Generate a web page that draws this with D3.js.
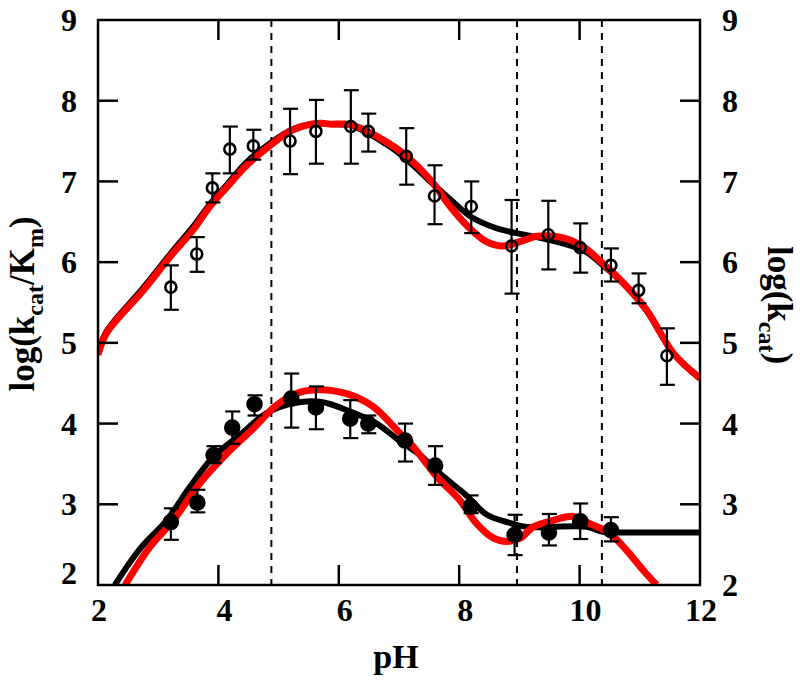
<!DOCTYPE html>
<html>
<head>
<meta charset="utf-8">
<script src="https://cdn.jsdelivr.net/npm/d3@7"></script>
<style>
  body { margin: 0; background: #fff; }
</style>
</head>
<body>
<div id="chart"></div>
<script>
// open circles (upper series)
var kmPH  = [3.21, 3.64, 3.90, 4.19, 4.58, 5.19, 5.62, 6.20, 6.49, 7.12, 7.59, 8.20, 8.87, 9.48, 10.01, 10.52, 10.98, 11.45];
var kmVal = [5.69, 6.10, 6.92, 7.40, 7.44, 7.50, 7.62, 7.68, 7.62, 7.31, 6.82, 6.69, 6.20, 6.34, 6.18, 5.96, 5.65, 4.84];
var kmHi  = [5.96, 6.31, 7.10, 7.68, 7.64, 7.90, 8.01, 8.13, 7.84, 7.66, 7.20, 7.00, 6.77, 6.76, 6.48, 6.17, 5.86, 5.18];
var kmLo  = [5.41, 5.88, 6.74, 7.10, 7.27, 7.09, 7.22, 7.22, 7.37, 6.96, 6.47, 6.36, 5.61, 5.91, 5.87, 5.76, 5.49, 4.48];

// filled circles (lower series)
var kcPH  = [3.21, 3.65, 3.92, 4.23, 4.60, 5.21, 5.62, 6.19, 6.49, 7.10, 7.60, 8.19, 8.92, 9.49, 10.01, 10.52];
var kcVal = [2.78, 3.02, 3.61, 3.95, 4.24, 4.31, 4.20, 4.06, 4.00, 3.79, 3.48, 2.97, 2.62, 2.65, 2.79, 2.68];
var kcHi  = [2.95, 3.18, 3.72, 4.15, 4.35, 4.62, 4.46, 4.29, 4.10, 4.00, 3.72, 3.11, 2.87, 2.88, 3.01, 2.84];
var kcLo  = [2.56, 2.90, 3.51, 3.75, 4.10, 3.95, 3.93, 3.82, 3.88, 3.53, 3.24, 2.89, 2.37, 2.49, 2.57, 2.54];

// fitted curves
var upRedPH  = [2.0, 2.14, 2.75, 3.20, 3.58, 3.86, 4.14, 4.47, 4.80, 5.24, 5.69, 5.85, 6.21, 6.79, 7.13, 7.52, 7.85, 8.12, 8.46, 8.73, 9.07, 9.29, 9.73, 10.06, 10.39, 10.73, 11.11, 11.56, 12.0];
var upRedVal = [4.85, 5.12, 5.65, 6.07, 6.40, 6.69, 6.93, 7.20, 7.41, 7.64, 7.72, 7.71, 7.70, 7.49, 7.31, 7.02, 6.69, 6.46, 6.25, 6.20, 6.27, 6.32, 6.30, 6.19, 5.98, 5.74, 5.41, 4.87, 4.56];
var upBlkPH  = [2.0, 2.14, 2.75, 3.20, 3.58, 3.86, 4.14, 4.47, 4.80, 5.24, 5.69, 5.85, 6.21, 6.79, 7.13, 7.52, 7.85, 8.20, 8.62, 8.95, 9.23, 9.73, 10.06, 10.39, 10.73, 11.11, 11.56, 12.0];
var upBlkVal = [4.87, 5.14, 5.68, 6.10, 6.44, 6.72, 6.96, 7.24, 7.44, 7.65, 7.72, 7.71, 7.69, 7.46, 7.27, 7.00, 6.78, 6.56, 6.42, 6.36, 6.32, 6.23, 6.15, 5.96, 5.73, 5.40, 4.87, 4.56];
var loRedPH  = [2.45, 2.86, 3.25, 3.69, 4.14, 4.58, 4.97, 5.36, 5.69, 6.13, 6.57, 6.99, 7.24, 7.63, 8.01, 8.29, 8.57, 8.79, 9.01, 9.23, 9.56, 9.89, 10.17, 10.50, 10.78, 11.06, 11.28];
var loRedVal = [2.00, 2.47, 2.80, 3.26, 3.63, 3.94, 4.23, 4.39, 4.42, 4.37, 4.21, 3.90, 3.71, 3.34, 3.05, 2.76, 2.58, 2.54, 2.58, 2.72, 2.80, 2.85, 2.76, 2.64, 2.43, 2.18, 2.00];
var loBlkPH  = [2.28, 2.70, 3.14, 3.53, 3.92, 4.36, 4.80, 5.24, 5.69, 6.19, 6.63, 7.02, 7.35, 7.68, 8.12, 8.46, 8.84, 9.12, 10.12, 10.39, 10.70, 11.30, 12.0];
var loBlkVal = [2.00, 2.45, 2.80, 3.22, 3.59, 3.86, 4.13, 4.25, 4.27, 4.15, 4.00, 3.78, 3.61, 3.38, 3.11, 2.87, 2.77, 2.72, 2.72, 2.66, 2.65, 2.65, 2.65];

var dashedPH = [4.88, 8.96, 10.37];
var xTicks = [2, 4, 6, 8, 10, 12];
var yTicks = [2, 3, 4, 5, 6, 7, 8, 9];

var W = 800, H = 685;
var margin = {left: 98, right: 700, top: 20, bottom: 585};
var serif = "Liberation Serif, DejaVu Serif, serif";

var svg = d3.select("#chart").append("svg")
    .attr("width", W).attr("height", H);

var x = d3.scaleLinear().domain([2, 12]).range([margin.left, margin.right]);
var y = d3.scaleLinear().domain([2, 9]).range([margin.bottom, margin.top]);

svg.append("defs").append("clipPath").attr("id", "plot")
    .append("rect").attr("x", margin.left).attr("y", margin.top)
    .attr("width", margin.right - margin.left).attr("height", margin.bottom - margin.top);

// dashed verticals
svg.selectAll(".vdash").data(dashedPH).enter().append("line")
    .attr("x1", d => x(d)).attr("x2", d => x(d))
    .attr("y1", margin.top).attr("y2", margin.bottom)
    .attr("stroke", "#000").attr("stroke-width", 2)
    .attr("stroke-dasharray", "7,6");

var line = d3.line().curve(d3.curveCatmullRom.alpha(0.5))
    .x(d => x(d[0])).y(d => y(d[1]));

function zip(a, b) { return a.map((v, i) => [v, b[i]]); }

var g = svg.append("g").attr("clip-path", "url(#plot)");
g.append("path").datum(zip(upBlkPH, upBlkVal)).attr("d", line)
    .attr("fill", "none").attr("stroke", "#000").attr("stroke-width", 6);
g.append("path").datum(zip(loBlkPH, loBlkVal)).attr("d", line)
    .attr("fill", "none").attr("stroke", "#000").attr("stroke-width", 6);
g.append("path").datum(zip(upRedPH, upRedVal)).attr("d", line)
    .attr("fill", "none").attr("stroke", "#f00").attr("stroke-width", 7);
g.append("path").datum(zip(loRedPH, loRedVal)).attr("d", line)
    .attr("fill", "none").attr("stroke", "#f00").attr("stroke-width", 7);

function errorBars(ph, val, hi, lo, filled) {
    var pts = ph.map((p, i) => ({p: p, v: val[i], hi: hi[i], lo: lo[i]}));
    var eg = svg.append("g");
    eg.selectAll(".bar").data(pts).enter().append("line")
        .attr("x1", d => x(d.p)).attr("x2", d => x(d.p))
        .attr("y1", d => y(d.hi)).attr("y2", d => y(d.lo))
        .attr("stroke", "#000").attr("stroke-width", 2.2);
    ["hi", "lo"].forEach(function (k) {
        eg.selectAll(".cap" + k).data(pts).enter().append("line")
            .attr("x1", d => x(d.p) - 7).attr("x2", d => x(d.p) + 8)
            .attr("y1", d => y(d[k])).attr("y2", d => y(d[k]))
            .attr("stroke", "#000").attr("stroke-width", 2.2);
    });
    eg.selectAll("circle").data(pts).enter().append("circle")
        .attr("cx", d => x(d.p)).attr("cy", d => y(d.v))
        .attr("r", filled ? 7 : 5.5)
        .attr("fill", filled ? "#000" : "none")
        .attr("stroke", "#000").attr("stroke-width", 2.6);
}
errorBars(kmPH, kmVal, kmHi, kmLo, false);
errorBars(kcPH, kcVal, kcHi, kcLo, true);

// frame
svg.append("rect").attr("x", margin.left).attr("y", margin.top)
    .attr("width", margin.right - margin.left).attr("height", margin.bottom - margin.top)
    .attr("fill", "none").attr("stroke", "#000").attr("stroke-width", 2.5);

// inward ticks
var tl = 20;
var innerX = xTicks.slice(1, -1), innerY = yTicks.slice(1, -1);
svg.selectAll(".tb").data(innerX).enter().append("line")
    .attr("x1", d => x(d)).attr("x2", d => x(d)).attr("y1", margin.bottom).attr("y2", margin.bottom - tl)
    .attr("stroke", "#000").attr("stroke-width", 2.5);
svg.selectAll(".tt").data(innerX).enter().append("line")
    .attr("x1", d => x(d)).attr("x2", d => x(d)).attr("y1", margin.top).attr("y2", margin.top + tl)
    .attr("stroke", "#000").attr("stroke-width", 2.5);
svg.selectAll(".tl").data(innerY).enter().append("line")
    .attr("x1", margin.left).attr("x2", margin.left + tl).attr("y1", d => y(d)).attr("y2", d => y(d))
    .attr("stroke", "#000").attr("stroke-width", 2.5);
svg.selectAll(".tr").data(innerY).enter().append("line")
    .attr("x1", margin.right).attr("x2", margin.right - tl).attr("y1", d => y(d)).attr("y2", d => y(d))
    .attr("stroke", "#000").attr("stroke-width", 2.5);

var texts = svg.append("g")
    .style("font-family", serif).style("font-weight", "bold");

// tick labels
texts.selectAll(".xl").data(xTicks).enter().append("text")
    .attr("x", d => x(d) + (d == 2 || d == 12 ? 1 : 6)).attr("y", 621)
    .attr("text-anchor", "middle").style("font-size", "32px")
    .text(d => d);
texts.selectAll(".yl").data(yTicks).enter().append("text")
    .attr("x", margin.left - 21).attr("y", d => y(d) + (d == 2 ? -12 : 0)).attr("dy", "0.35em")
    .attr("text-anchor", "end").style("font-size", "32px")
    .text(d => d);
texts.selectAll(".yr").data(yTicks).enter().append("text")
    .attr("x", margin.right + 22).attr("y", d => y(d)).attr("dy", "0.35em")
    .attr("text-anchor", "start").style("font-size", "32px")
    .text(d => d);

// axis titles
texts.append("text").attr("x", 396).attr("y", 668)
    .attr("text-anchor", "middle").style("font-size", "34px").text("pH");

var lt = texts.append("text")
    .attr("transform", "translate(34,304) rotate(-90)")
    .attr("text-anchor", "middle").style("font-size", "35px");
lt.append("tspan").text("log(k");
lt.append("tspan").attr("dy", 9).style("font-size", "24px").text("cat");
lt.append("tspan").attr("dy", -9).text("/K");
lt.append("tspan").attr("dy", 9).style("font-size", "24px").text("m");
lt.append("tspan").attr("dy", -9).text(")");

var rt = texts.append("text")
    .attr("transform", "translate(768,305) rotate(90)")
    .attr("text-anchor", "middle").style("font-size", "35px");
rt.append("tspan").text("log(k");
rt.append("tspan").attr("dy", 9).style("font-size", "24px").text("cat");
rt.append("tspan").attr("dy", -9).text(")");
</script>
</body>
</html>
